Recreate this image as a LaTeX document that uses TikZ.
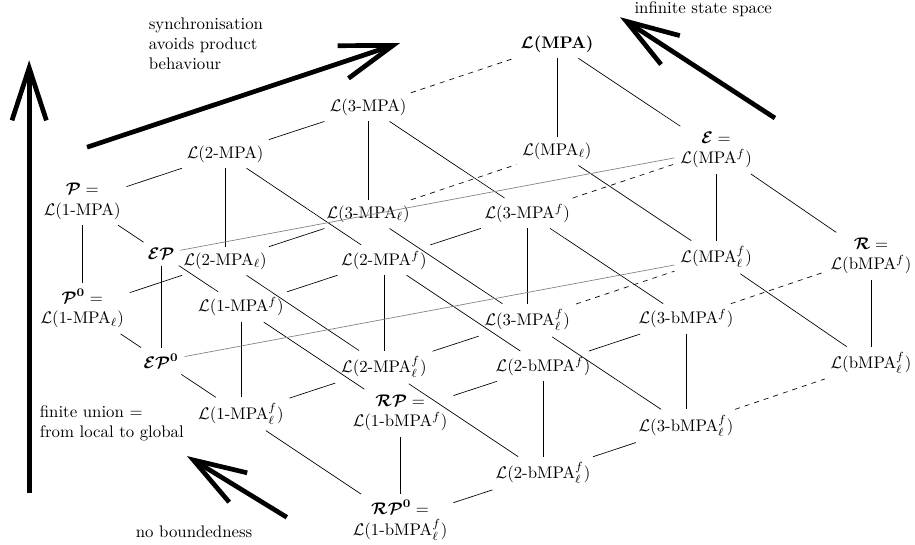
\documentclass[tikz,border=0pt]{standalone}
\usepackage{amsmath,amssymb}
\usetikzlibrary{arrows.meta}
\newcommand{\Lg}[1]{$\mathcal{L}(\text{#1})$}
\newcommand{\bc}[1]{\boldsymbol{\mathcal{#1}}}
\tikzset{
  bigarrow/.style={line width=2.8pt,-{Straight Barb[length=1.1cm,width=0.72cm]}},
  cross/.style={gray,thin},
}
\begin{document}
\begin{tikzpicture}[align=center]
\useasboundingbox (0,0) rectangle (19.14,-11.40);
% upper layer
\node (p) at (1.72,-4.21) {$\bc{P} =$\\\Lg{1-MPA}};
\node (m2) at (4.71,-3.22) {\Lg{2-MPA}};
\node (m3) at (7.70,-2.24) {\Lg{3-MPA}};
\node (mpa) at (11.65,-0.92) {$\bc{L}$\textbf{(MPA)}};
\node (ep) at (3.37,-5.31) {$\bc{EP}$};
\node (m1f) at (5.04,-6.42) {\Lg{1-MPA$^f$}};
\node (m2f) at (8.03,-5.44) {\Lg{2-MPA$^f$}};
\node (m3f) at (11.03,-4.46) {\Lg{3-MPA$^f$}};
\node (e) at (14.98,-3.14) {$\bc{E} =$\\\Lg{MPA$^f$}};
\node (rp) at (8.37,-8.64) {$\bc{RP} =$\\\Lg{1-bMPA$^f$}};
\node (b2f) at (11.36,-7.66) {\Lg{2-bMPA$^f$}};
\node (b3f) at (14.35,-6.67) {\Lg{3-bMPA$^f$}};
\node (r) at (18.22,-5.36) {$\bc{R} =$\\\Lg{bMPA$^f$}};
% lower layer
\node (pz) at (1.72,-6.45) {$\bc{P}^{\boldsymbol{0}} =$\\\Lg{1-MPA$_\ell$}};
\node (m2l) at (4.71,-5.46) {\Lg{2-MPA$_\ell$}};
\node (m3l) at (7.70,-4.48) {\Lg{3-MPA$_\ell$}};
\node (ml) at (11.65,-3.16) {\Lg{MPA$_\ell$}};
\node (epz) at (3.37,-7.55) {$\bc{EP}^{\boldsymbol{0}}$};
\node (m1lf) at (5.04,-8.66) {\Lg{1-MPA$^f_\ell$}};
\node (m2lf) at (8.03,-7.68) {\Lg{2-MPA$^f_\ell$}};
\node (m3lf) at (11.03,-6.70) {\Lg{3-MPA$^f_\ell$}};
\node (mlf) at (14.98,-5.38) {\Lg{MPA$^f_\ell$}};
\node (rpz) at (8.37,-10.88) {$\bc{RP}^{\boldsymbol{0}} =$\\\Lg{1-bMPA$^f_\ell$}};
\node (b2lf) at (11.36,-9.90) {\Lg{2-bMPA$^f_\ell$}};
\node (b3lf) at (14.35,-8.91) {\Lg{3-bMPA$^f_\ell$}};
\node (blf) at (18.22,-7.60) {\Lg{bMPA$^f_\ell$}};
% edges
\foreach \a/\b in {p/m2,m2/m3,pz/m2l,m2l/m3l,m1f/m2f,m2f/m3f,m1lf/m2lf,m2lf/m3lf,rp/b2f,b2f/b3f,rpz/b2lf,b2lf/b3lf}
  \draw (\a)--(\b);
\foreach \a/\b in {m3/mpa,m3l/ml,m3f/e,m3lf/mlf,b3f/r,b3lf/blf}
  \draw[dashed] (\a)--(\b);
\foreach \a/\b in {p/ep,ep/m1f,m2/m2f,m3/m3f,mpa/e,m1f/rp,m2f/b2f,m3f/b3f,e/r,pz/epz,epz/m1lf,m2l/m2lf,m3l/m3lf,ml/mlf,m1lf/rpz,m2lf/b2lf,m3lf/b3lf,mlf/blf}
  \draw (\a)--(\b);
\foreach \a/\b in {p/pz,ep/epz,m2/m2l,m3/m3l,mpa/ml,m1f/m1lf,m2f/m2lf,m3f/m3lf,e/mlf,rp/rpz,b2f/b2lf,b3f/b3lf,r/blf}
  \draw (\a)--(\b);
\draw[cross] (ep)--(e);
\draw[cross] (epz)--(mlf);
% big arrows
\node[anchor=west,align=left] (sync) at (2.99,-0.92) {synchronisation\\avoids product\\behaviour};
\node (inf) at (14.71,-0.19) {infinite state space};
\node[anchor=west,align=left] (union) at (0.71,-8.85) {finite union =\\from local to global};
\node (bound) at (4.06,-11.13) {no boundedness};
\coordinate (a1) at (0.61,-10.31); \coordinate (a1e) at (0.61,-1.26);
\coordinate (a2) at (1.82,-3.08); \coordinate (a2e) at (8.37,-0.90);
\coordinate (a3) at (16.21,-2.47); \coordinate (a3e) at (12.97,-0.36);
\coordinate (a4) at (6.00,-10.82); \coordinate (a4e) at (3.91,-9.54);
\foreach \s/\t in {a1/a1e,a2/a2e,a3/a3e,a4/a4e}
  \draw[bigarrow] (\s)--(\t);
\end{tikzpicture}
\end{document}
